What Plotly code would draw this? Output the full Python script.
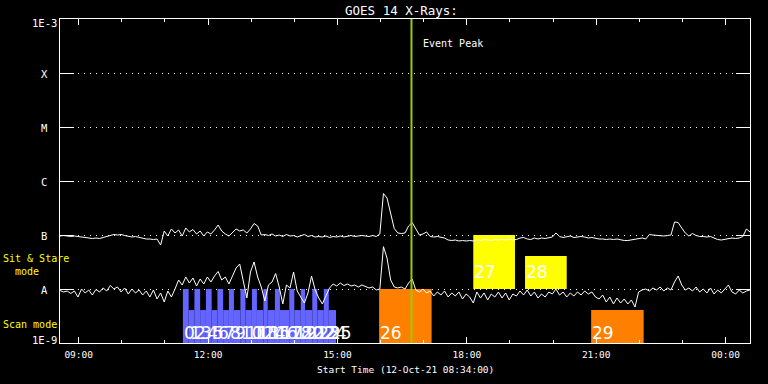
import plotly.graph_objects as go
import pandas as pd
import math

# ---------------- data ----------------
sample_start = "2021-10-12 08:34"
sample_count = 193          # 5-minute samples, 08:34 -> 00:34
sample_freq = "5min"

# GOES 1-8 A channel, units of 1e-7 W/m^2
long_flux_e7 = [
    0.958, 0.979, 0.958, 0.938, 0.958, 0.938, 0.899, 0.899, 0.880, 0.861,
    0.880, 0.861, 0.899, 0.938, 1.000, 1.022, 1.000, 1.022, 0.979, 0.958,
    0.918, 0.938, 0.899, 0.861, 0.843, 0.843, 0.825, 0.843, 0.653, 1.186,
    0.958, 1.292, 1.089, 1.238, 0.958, 1.348, 1.137, 1.264, 1.044, 1.186,
    0.958, 1.137, 1.044, 1.238, 1.532, 1.186, 1.044, 0.958, 1.137, 1.292,
    1.186, 1.238, 1.089, 1.292, 1.633, 1.468, 1.000, 1.022, 0.979, 1.044,
    0.958, 1.000, 0.938, 1.022, 0.958, 0.979, 0.918, 0.958, 1.022, 0.938,
    0.979, 0.918, 0.938, 0.918, 0.958, 0.899, 0.938, 0.918, 0.958, 0.918,
    0.938, 0.979, 0.938, 0.958, 0.979, 0.958, 0.938, 0.979, 0.938, 1.044,
    5.870, 4.840, 2.346, 1.320, 1.089, 1.066, 1.089, 1.468, 1.704, 1.292,
    1.000, 1.044, 1.137, 0.938, 0.918, 0.938, 0.899, 0.880, 0.808, 0.791,
    0.808, 0.774, 0.791, 0.774, 0.791, 0.774, 0.808, 0.791, 0.825, 0.808,
    0.791, 0.825, 0.808, 0.825, 0.808, 0.843, 0.808, 0.825, 0.880, 0.899,
    0.843, 0.825, 0.880, 0.843, 0.880, 0.861, 0.899, 0.918, 1.089, 0.938,
    0.899, 0.918, 0.958, 0.899, 0.918, 0.938, 0.918, 0.880, 0.899, 0.861,
    0.843, 0.843, 0.825, 0.843, 0.825, 0.843, 0.808, 0.791, 0.791, 0.808,
    0.825, 0.843, 0.880, 0.843, 1.022, 1.000, 0.979, 0.979, 0.958, 0.979,
    1.000, 1.741, 1.704, 1.348, 1.089, 0.958, 1.066, 0.979, 0.938, 0.938,
    0.918, 0.938, 0.880, 0.825, 0.808, 0.825, 0.861, 0.880, 0.861, 0.880,
    0.938, 1.292, 1.137,
]

# GOES 0.5-4 A channel, units of 1e-8 W/m^2
short_flux_e8 = [
    0.938, 0.880, 0.918, 0.825, 0.918, 0.711, 1.000, 0.843, 0.958, 0.774,
    0.979, 0.880, 1.044, 0.918, 1.161, 1.000, 1.089, 0.880, 1.044, 0.808,
    1.000, 0.843, 0.958, 0.774, 0.918, 0.711, 0.958, 0.653, 0.843, 0.574,
    0.918, 0.711, 1.000, 1.468, 1.186, 1.668, 1.292, 1.599, 1.137, 1.532,
    1.238, 1.668, 1.348, 1.741, 2.110, 1.468, 1.668, 1.238, 1.741, 2.448,
    2.904, 1.468, 0.681, 2.065, 3.162, 1.668, 1.089, 0.600, 1.186, 1.348,
    1.937, 1.089, 0.528, 1.186, 1.044, 2.065, 0.918, 0.711, 0.550, 0.843,
    1.741, 0.958, 0.681, 0.528, 0.742, 1.044, 1.238, 1.137, 1.292, 1.161,
    1.238, 1.137, 1.186, 1.089, 1.186, 1.112, 1.044, 1.089, 0.958, 1.000,
    6.080, 3.750, 1.470, 1.089, 1.044, 1.089, 1.000, 1.292, 1.532, 0.958,
    0.880, 1.000, 0.843, 0.918, 0.742, 0.880, 0.774, 0.918, 0.711, 0.843,
    0.742, 0.880, 0.653, 0.808, 0.711, 0.550, 0.880, 0.681, 0.843, 0.626,
    0.808, 0.711, 0.880, 0.681, 0.843, 0.626, 0.808, 0.742, 0.918, 0.774,
    0.958, 0.742, 0.880, 0.681, 0.808, 0.711, 0.880, 0.808, 1.000, 0.774,
    0.880, 0.711, 0.843, 0.742, 0.880, 0.774, 0.918, 0.808, 0.880, 0.711,
    0.653, 0.774, 0.574, 0.711, 0.528, 0.681, 0.550, 0.653, 0.528, 0.626,
    0.464, 0.880, 0.958, 1.000, 0.918, 1.044, 0.958, 1.089, 0.918, 1.044,
    0.958, 1.348, 1.741, 1.186, 0.958, 1.044, 0.918, 1.089, 0.880, 1.000,
    0.843, 1.044, 0.808, 0.958, 0.843, 1.000, 1.186, 0.880, 0.808, 0.958,
    0.843, 0.918, 0.958,
]

# observation bars
obs_labels = [str(i) for i in range(30)]
obs_start = ["11:25", "11:33", "11:41", "11:49", "11:57", "12:05", "12:13", "12:21",
             "12:29", "12:36", "12:45", "12:52", "13:01", "13:08", "13:17", "13:23",
             "13:33", "13:40", "13:53", "14:00", "14:09", "14:15", "14:25", "14:32",
             "14:41", "14:48", "15:58", "18:09", "19:21", "20:53"]
obs_end = ["11:33", "11:41", "11:49", "11:57", "12:05", "12:13", "12:21", "12:29",
           "12:36", "12:45", "12:52", "13:01", "13:08", "13:17", "13:23", "13:33",
           "13:40", "13:53", "14:00", "14:09", "14:15", "14:25", "14:32", "14:41",
           "14:48", "14:58", "17:11", "19:07", "20:19", "22:06"]
obs_mode = ["scan"] * 26 + ["scan", "sit", "sit", "scan"]
obs_kind = ["blue"] * 26 + ["orange", "yellow", "yellow", "orange"]
obs_tall = [i % 2 == 0 for i in range(26)] + [True, True, False, False]
obs_date = "2021-10-12"

event_peak = "2021-10-12 16:43"

x_range = ["2021-10-12 08:34", "2021-10-13 00:34"]
level_names = ["1E-9", "A", "B", "C", "M", "X", "1E-3"]
level_values = [1e-9, 1e-8, 1e-7, 1e-6, 1e-5, 1e-4, 1e-3]

# ---------------- styles ----------------
kind_colors = {"blue": "#6464FF", "orange": "#FF8000", "yellow": "#FFFF00"}
mode_bottom = {"scan": 1e-9, "sit": 1e-8}
mode_label_y = {"scan": 1.53e-9, "sit": 2.06e-8}
short_frac = 0.61
W, H = 768, 384
L, R, T, B = 60, 18, 19, 41
pw, ph = W - L - R, H - T - B
mono = "DejaVu Sans Mono"


def px_x(px):
    return (px - L) / pw


def px_y(py):
    return (H - B - py) / ph


times = pd.date_range(sample_start, periods=sample_count, freq=sample_freq)
long_flux = [v * 1e-7 for v in long_flux_e7]
short_flux = [v * 1e-8 for v in short_flux_e8]

fig = go.Figure()

# bars
annotations = []
for lab, s, e, mode, kind, tall in zip(obs_labels, obs_start, obs_end, obs_mode, obs_kind, obs_tall):
    x0 = f"{obs_date} {s}"
    x1 = f"{obs_date} {e}"
    bot = mode_bottom[mode]
    top = bot * 10 if tall else bot * 10 ** short_frac
    fig.add_trace(go.Scatter(
        x=[x0, x1, x1, x0, x0], y=[bot, bot, top, top, bot],
        mode="lines", fill="toself", fillcolor=kind_colors[kind],
        line=dict(width=0), hoverinfo="skip", showlegend=False))
    annotations.append(dict(
        x=x0, y=math.log10(mode_label_y[mode]), xref="x", yref="y",
        text=lab, showarrow=False, xanchor="left", yanchor="middle", xshift=-1,
        font=dict(family="DejaVu Sans", size=17, color="white")))

# curves
fig.add_trace(go.Scatter(x=times, y=long_flux, mode="lines",
                         line=dict(color="white", width=1), showlegend=False))
fig.add_trace(go.Scatter(x=times, y=short_flux, mode="lines",
                         line=dict(color="white", width=1), showlegend=False))

# y labels
label_py = {"1E-3": 23, "X": 73.8, "M": 127.8, "C": 181.8, "B": 236.3, "A": 289.5, "1E-9": 340}
for name in level_names:
    annotations.append(dict(
        x=px_x(44), y=px_y(label_py[name]), xref="paper", yref="paper",
        text=name, showarrow=False, xanchor="center", yanchor="middle",
        font=dict(family=mono, size=10.5, color="white")))

yellow = "#FFFF00"
annotations += [
    dict(x=px_x(1), y=px_y(258), xref="paper", yref="paper", text="Sit & Stare",
         showarrow=False, xanchor="left", yanchor="middle",
         font=dict(family=mono, size=10, color=yellow)),
    dict(x=px_x(12.8), y=px_y(271), xref="paper", yref="paper", text="mode",
         showarrow=False, xanchor="left", yanchor="middle",
         font=dict(family=mono, size=10, color=yellow)),
    dict(x=px_x(1), y=px_y(324), xref="paper", yref="paper", text="Scan mode",
         showarrow=False, xanchor="left", yanchor="middle",
         font=dict(family=mono, size=10, color=yellow)),
    dict(x=px_x(401.7), y=px_y(10), xref="paper", yref="paper", text="GOES 14 X-Rays:",
         showarrow=False, xanchor="center", yanchor="middle",
         font=dict(family=mono, size=12.5, color="white")),
    dict(x=0.5, y=px_y(369), xref="paper", yref="paper",
         text="Start Time (12-Oct-21 08:34:00)",
         showarrow=False, xanchor="center", yanchor="middle",
         font=dict(family=mono, size=9.5, color="white")),
    dict(x=event_peak, y=px_y(43), xref="x", yref="paper", text="Event Peak",
         showarrow=False, xanchor="left", yanchor="middle", xshift=10,
         font=dict(family=mono, size=10, color="white")),
]

fig.update_layout(
    width=W, height=H,
    margin=dict(l=L, r=R, t=T, b=B, pad=0),
    paper_bgcolor="black", plot_bgcolor="black",
    showlegend=False,
    annotations=annotations,
    shapes=[dict(type="line", xref="x", yref="paper", x0=event_peak, x1=event_peak,
                 y0=0, y1=1, line=dict(color="#9CCB00", width=2), layer="above")],
)

fig.update_xaxes(
    type="date", range=x_range,
    showline=True, linecolor="white", linewidth=1, mirror="ticks",
    ticks="inside", ticklen=6, tickcolor="white", tickwidth=1,
    tick0="2021-10-12 00:00", dtick=3 * 3600 * 1000, tickformat="%H:%M",
    tickfont=dict(family=mono, size=9.5, color="white"),
    ticklabelstandoff=3,
    showgrid=False, zeroline=False,
    minor=dict(dtick=3600 * 1000, tick0="2021-10-12 00:00", ticks="inside",
               ticklen=3, tickcolor="white", showgrid=False),
)
fig.update_yaxes(
    type="log", range=[-9, -3],
    showline=True, linecolor="white", linewidth=1, mirror="ticks",
    tickvals=level_values, showticklabels=False,
    ticks="inside", ticklen=14, tickcolor="white",
    showgrid=True, gridcolor="white", gridwidth=1, griddash="1px,5px",
    zeroline=False,
)

fig.write_html(
    "out.html",
    config={"displayModeBar": False, "staticPlot": True},
    post_script="document.body.style.margin='0';document.body.style.background='black';",
)
